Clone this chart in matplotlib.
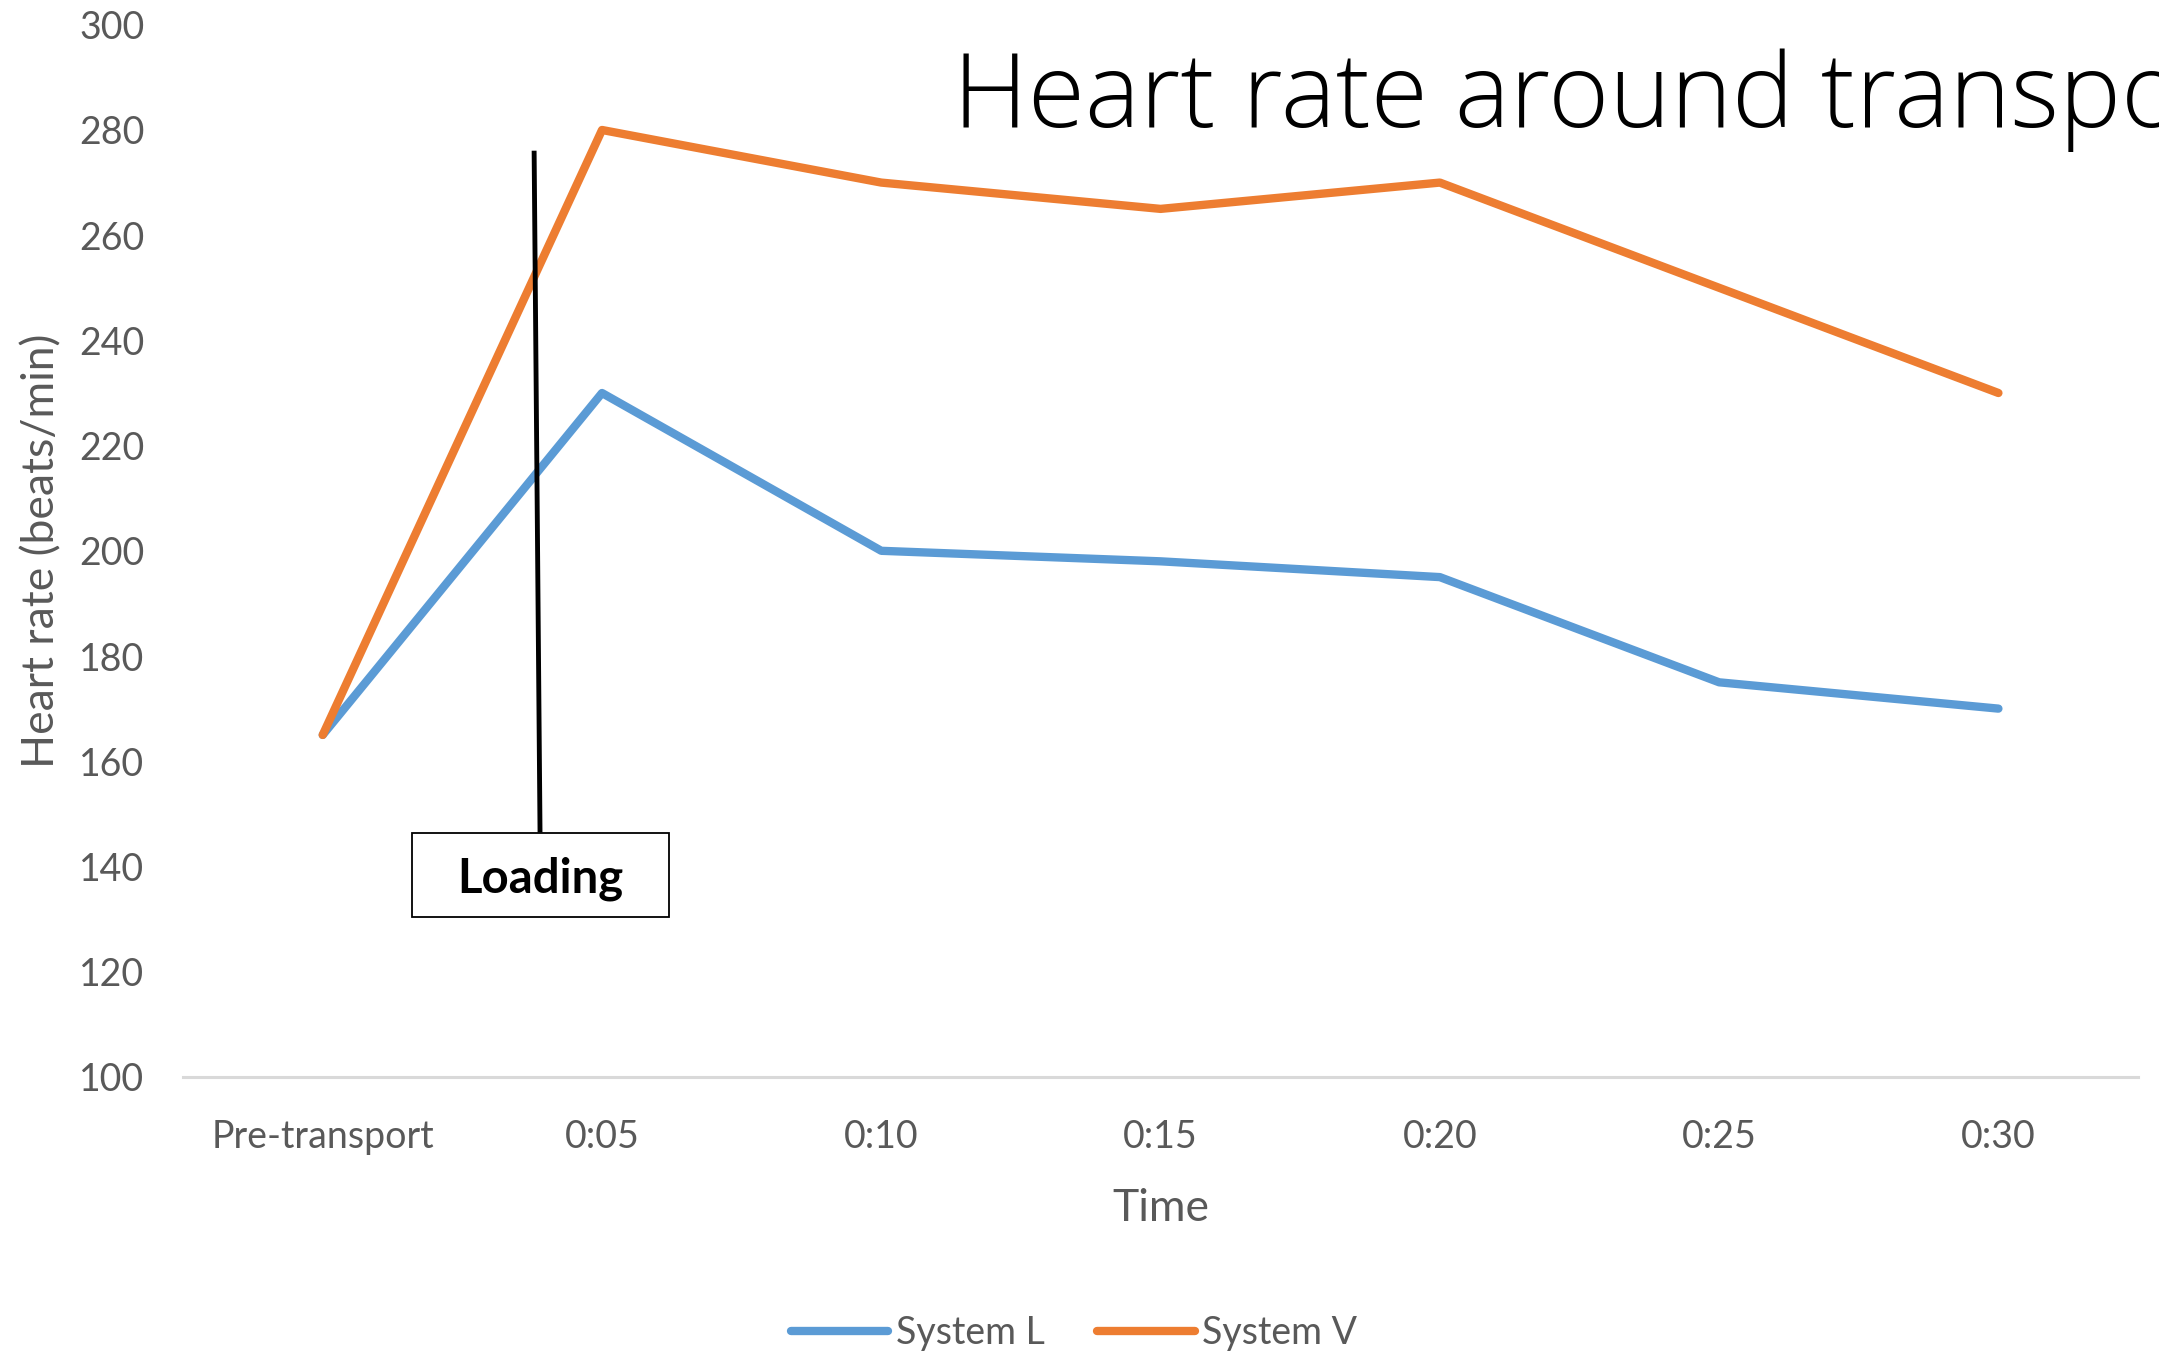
import numpy as np
import matplotlib.pyplot as plt
from matplotlib.patches import Rectangle

plt.rcParams['font.family'] = ['Lato', 'DejaVu Sans']

times = ["Pre-transport", "0:05", "0:10", "0:15", "0:20", "0:25", "0:30"]
system_l = [165, 230, 200, 198, 195, 175, 170]
system_v = [165, 280, 270, 265, 270, 250, 230]
y_ticks = list(range(100, 301, 20))

# loading marker (category position, heart-rate span)
loading_x = [0.757, 0.778]
loading_y = [275.6, 146.9]

blue = "#5B9BD5"
orange = "#ED7D31"
grey = "#595959"

fig = plt.figure(figsize=(21.59, 13.54), dpi=100)
ax = fig.add_axes([0.0848, 0.2047, 0.9055, 0.777])

x = np.arange(len(times))
ax.plot(x, system_l, color=blue, lw=6, solid_capstyle="round", solid_joinstyle="round", label="System L")
ax.plot(x, system_v, color=orange, lw=6, solid_capstyle="round", solid_joinstyle="round", label="System V")

ax.set_xlim(-0.5, len(times) - 0.5)
ax.set_ylim(100, 300)
ax.set_yticks(y_ticks)
ax.set_xticks(x)
ax.set_xticklabels(times)

for s in ["top", "right", "left"]:
    ax.spines[s].set_visible(False)
ax.spines["bottom"].set_color("#D9D9D9")
ax.spines["bottom"].set_linewidth(2.2)

ax.tick_params(axis="both", length=0, colors=grey, labelsize=27)
ax.tick_params(axis="y", pad=28)
ax.tick_params(axis="x", pad=30)

ax.set_xlabel("Time", fontsize=32, color=grey, labelpad=24)
ax.set_ylabel("Heart rate (beats/min)", fontsize=32, color=grey, labelpad=12)

# loading annotation
ax.plot(loading_x, loading_y, color="black", lw=3.5, clip_on=False)
ax.add_patch(Rectangle((0.32, 130.4), 0.92, 15.9, facecolor="white",
                       edgecolor="black", lw=1.3, clip_on=False, zorder=5))
ax.text(0.78, 137.6, "Loading", ha="center", va="center", fontsize=34,
        fontweight="bold", color="black", zorder=6)

fig.text(953 / 2159, 0.906, "Heart rate around transport", fontsize=75,
         family=["Open Sans", "DejaVu Sans"], fontweight="light", color="black",
         ha="left", va="baseline")

fig.legend(loc="center", bbox_to_anchor=(0.4975, 0.0155), ncol=2, frameon=False,
           fontsize=27, labelcolor=grey, handlelength=2.6, handletextpad=0.2,
           columnspacing=1.4)

fig.savefig("out.png", dpi=100)
